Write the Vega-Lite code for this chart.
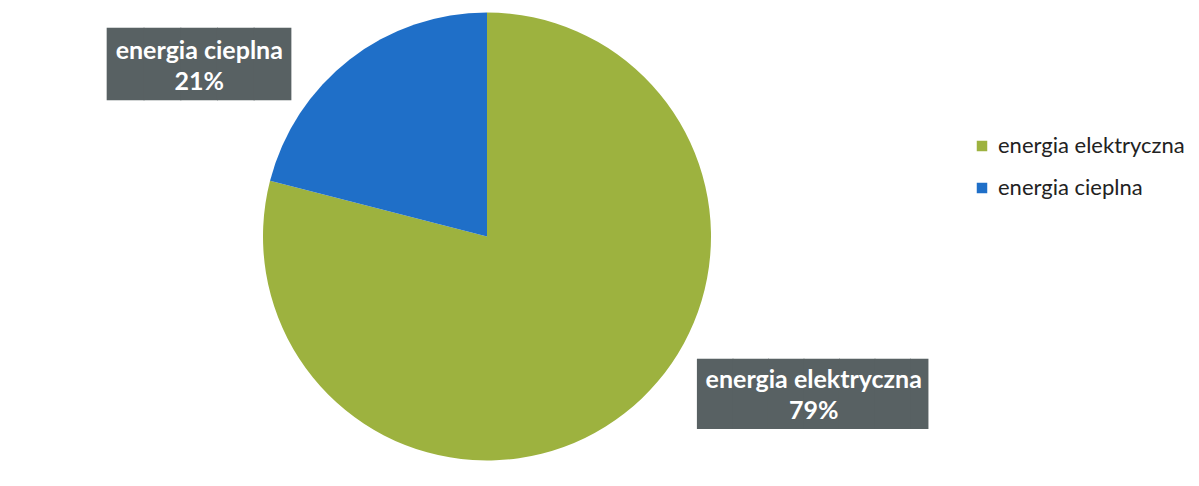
{
  "$schema": "https://vega.github.io/schema/vega-lite/v6.json",
  "width": 974,
  "height": 473,
  "padding": 0,
  "autosize": {"type": "pad"},
  "background": "#ffffff",
  "view": {"stroke": null},
  "data": {
    "values": [
      {"category": "energia elektryczna", "share": 0.79},
      {"category": "energia cieplna", "share": 0.21}
    ]
  },
  "encoding": {
    "theta": {"field": "share", "type": "quantitative", "stack": true},
    "order": {"field": "share", "type": "quantitative", "sort": "descending"}
  },
  "layer": [
    {
      "mark": {"type": "arc", "radius": 224},
      "encoding": {
        "color": {
          "field": "category",
          "type": "nominal",
          "scale": {"domain": ["energia elektryczna", "energia cieplna"], "range": ["#9db23f", "#1f6fc8"]},
          "legend": {
            "title": null,
            "orient": "none",
            "legendX": 971,
            "legendY": 135,
            "symbolType": "square",
            "symbolSize": 110,
            "symbolStrokeWidth": 0,
            "labelFont": "Lato",
            "labelFontSize": 22,
            "labelColor": "#222222",
            "rowPadding": 20,
            "labelOffset": 5,
            "labelLimit": 400,
            "padding": 0
          }
        }
      }
    },
    {
      "mark": {"type": "text", "text": "█████", "font": "DejaVu Sans Mono", "fontSize": 61, "radius": 219, "dx": -153.5, "dy": 4, "baseline": "middle", "align": "center", "color": "#586163"},
      "encoding": {"opacity": {"condition": {"test": "datum.category === 'energia cieplna'", "value": 1}, "value": 0}}
    },
    {
      "mark": {"type": "text", "font": "Lato", "fontWeight": "bold", "fontSize": 25, "color": "#ffffff", "radius": 219, "dx": -153.5, "dy": -12, "baseline": "middle", "align": "center"},
      "encoding": {
        "text": {"field": "category", "type": "nominal"},
        "opacity": {"condition": {"test": "datum.category === 'energia cieplna'", "value": 1}, "value": 0}
      }
    },
    {
      "mark": {"type": "text", "font": "Lato", "fontWeight": "bold", "fontSize": 25, "color": "#ffffff", "radius": 219, "dx": -153.5, "dy": 19, "baseline": "middle", "align": "center"},
      "encoding": {
        "text": {"field": "share", "type": "quantitative", "format": ".0%"},
        "opacity": {"condition": {"test": "datum.category === 'energia cieplna'", "value": 1}, "value": 0}
      }
    },
    {
      "mark": {"type": "text", "text": "██████▌", "font": "DejaVu Sans Mono", "fontSize": 59, "radius": 197, "dx": 214, "dy": 4, "baseline": "middle", "align": "center", "color": "#586163"},
      "encoding": {"opacity": {"condition": {"test": "datum.category === 'energia elektryczna'", "value": 1}, "value": 0}}
    },
    {
      "mark": {"type": "text", "font": "Lato", "fontWeight": "bold", "fontSize": 25, "color": "#ffffff", "radius": 197, "dx": 206, "dy": -12, "baseline": "middle", "align": "center"},
      "encoding": {
        "text": {"field": "category", "type": "nominal"},
        "opacity": {"condition": {"test": "datum.category === 'energia elektryczna'", "value": 1}, "value": 0}
      }
    },
    {
      "mark": {"type": "text", "font": "Lato", "fontWeight": "bold", "fontSize": 25, "color": "#ffffff", "radius": 197, "dx": 206, "dy": 19, "baseline": "middle", "align": "center"},
      "encoding": {
        "text": {"field": "share", "type": "quantitative", "format": ".0%"},
        "opacity": {"condition": {"test": "datum.category === 'energia elektryczna'", "value": 1}, "value": 0}
      }
    }
  ]
}
